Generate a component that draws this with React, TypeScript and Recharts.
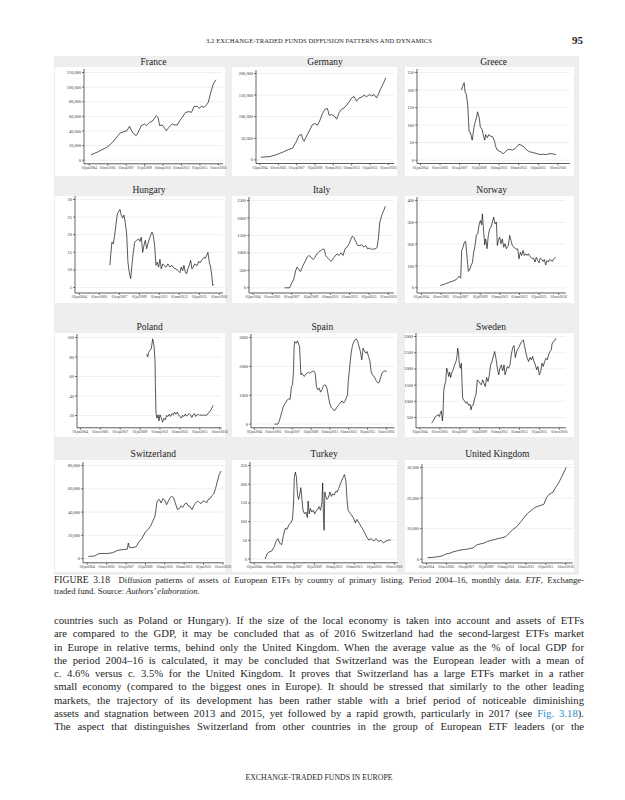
import React from 'react';
import { LineChart, Line, XAxis, YAxis, CartesianGrid } from 'recharts';

// ---------- data (month index from first x tick, value) ----------
const xTickMonths = [0, 22, 44, 66, 88, 110, 132, 154];
const xTickLabels = ['01jan2004', '01nov2005', '01sep2007', '01jul2009', '01may2011', '01mar2013', '01jan2015', '01nov2016'];

const france: [number, number][] = [[2,7300],[11,11800],[21,17700],[27,23600],[37,37300],[45,40500],[48,46400],[52,37300],[56,33600],[58,37300],[62,47300],[66,49500],[68,47300],[72,51800],[76,54100],[80,60900],[82,58600],[84,47300],[87,48200],[90,43600],[92,40500],[95,45000],[99,49500],[102,48200],[105,48200],[108,54100],[111,58600],[115,65500],[119,66400],[122,65500],[125,73600],[129,73600],[131,70900],[134,73600],[137,72300],[140,75900],[142,79100],[145,92700],[148,104000],[151,110000]];
const germany: [number, number][] = [[1,6200],[12,7700],[20,12400],[28,18500],[34,23900],[39,27000],[43,40100],[47,57100],[50,58700],[51,49400],[53,43200],[55,51700],[59,66400],[63,81800],[66,84100],[69,80300],[72,91900],[75,107300],[78,117300],[81,118900],[83,103400],[86,105000],[89,101900],[92,94200],[95,109600],[98,117300],[101,120400],[104,126600],[107,134300],[110,143600],[113,146700],[116,135900],[119,143600],[122,145100],[125,149800],[128,145900],[131,151300],[134,148200],[137,151300],[140,143600],[142,151300],[145,165200],[148,176800],[151,189900]];
const greece: [number, number][] = [[46,200],[47,209],[49,221],[50,195],[51.5,187],[53,157],[54.5,81],[56,79],[58,57],[60,95],[61,105],[63,124],[64,138],[66,119],[67,95],[69,88],[70,76],[72,57],[73,73],[75,64],[76.5,73],[78,69],[81,67],[83,54],[84,41],[86,29],[88,26],[90,24],[92.5,18],[95,24],[97,29],[100,31],[103,29],[106,33],[108,38],[110,45],[113,43],[116,38],[119,29],[122,24],[126,22],[130,19],[134,16],[137,17],[141,16],[145,19],[148,18],[151.5,16]];
const hungary: [number, number][] = [[33.7,11.3],[34.8,15],[35.9,17.9],[37.4,17.4],[38.9,19.8],[40.3,22.8],[41.8,25.9],[43.3,26.6],[44.7,27.2],[46.2,25.5],[47.7,24.7],[49.1,25.6],[50.6,23.4],[52.1,20.2],[53.5,12.2],[55,9.2],[56.5,7.5],[57.9,11.3],[59.4,15],[60.9,17.9],[63.1,18.4],[65.3,18.8],[66.7,18.1],[68.2,19.3],[69.7,15],[71.1,16.9],[72.6,18.4],[74.1,16],[75.5,17.4],[77,18.8],[78.5,19.8],[79.9,20.7],[81.4,19.8],[82.9,16.9],[84.3,11.3],[85.8,12.2],[87.3,10.8],[88.7,13],[90.2,10.3],[91.7,11.7],[93.1,11.3],[95.3,10.8],[97.5,11.7],[99.7,10.8],[101.9,11.3],[104.1,10.5],[106.3,10.3],[108.5,9.8],[110.7,9.2],[112.2,10.8],[113.7,9.8],[115.1,11.3],[116.6,9.4],[118.1,8.9],[119.5,10.3],[121,11.3],[122.5,12.7],[123.9,10.3],[125.4,10.8],[126.9,11.7],[128.3,11.4],[129.8,11.3],[131.3,12.4],[132.7,12],[134.2,12.7],[135.7,13],[137.1,13.6],[138.6,13.3],[140.1,14.1],[141.5,15],[143,12.2],[144.5,10.8],[145.9,7.9],[146.7,5.6],[148.1,5.9]];
const italy: [number, number][] = [[36,0],[41.7,0],[43.6,114],[46.3,239],[48.6,496],[50.1,592],[51.6,544],[53.9,467],[55.4,544],[56.9,639],[59.2,754],[61.5,878],[63.7,925],[66,878],[68.3,811],[70.6,878],[72.8,973],[75.1,1040],[77.4,1068],[79.7,1116],[81.2,1097],[82.7,925],[84.2,878],[86.5,811],[88.8,754],[91,830],[93.3,906],[95.6,973],[97.9,925],[100.2,1002],[102.4,925],[104.7,1116],[107,1164],[109.3,1259],[111.5,1402],[113,1479],[114.6,1450],[116.8,1326],[119.1,1212],[121.4,1212],[123.7,1231],[125.9,1164],[128.2,1212],[130.5,1116],[132.8,1135],[135,1097],[137.3,1116],[139.6,1116],[141.1,1164],[142.6,1402],[144.2,1879],[146.4,2070],[148.7,2213],[150.6,2337]];
const norway: [number, number][] = [[21.3,11],[24.3,14],[28,20],[31.8,26],[35.5,31],[39.2,38],[42.2,53],[44.1,44],[45.2,171],[46.7,186],[48.2,209],[49.7,212],[51.2,140],[52.7,75],[54.2,84],[55.7,102],[57.2,115],[58.7,163],[60.2,194],[61.7,243],[63.2,247],[64.6,286],[66.1,308],[67.6,289],[68.4,339],[69.9,255],[71,197],[72.1,224],[73.6,179],[75.1,240],[76.6,270],[78.1,278],[79.6,301],[81.1,324],[82.6,293],[84.1,301],[85.2,194],[86.3,217],[87.8,232],[89.3,202],[90.8,224],[92.3,186],[93.8,202],[95.3,179],[97.5,194],[99,240],[100.5,217],[102,194],[103.5,186],[105,182],[106.5,176],[108,179],[109.5,133],[111,163],[112.5,148],[114,171],[115.5,148],[117,156],[118.5,148],[120,156],[121.4,145],[122.9,140],[124.4,133],[125.9,136],[127.4,118],[128.9,140],[130.4,125],[131.9,115],[133.4,136],[134.9,130],[136.4,121],[137.9,130],[139.4,105],[140.9,125],[142.4,118],[143.9,130],[145.4,125],[146.9,121],[148.4,133],[150.6,140]];
const poland: [number, number][] = [[73.3,82.9],[74.4,80.2],[75.5,85],[77,87],[78.5,89],[79.9,98.6],[81.4,91.8],[82.5,75.4],[82.9,51.4],[83.6,22.4],[84.7,17.3],[85.8,20.7],[86.9,14.5],[88,20.7],[89.5,17.3],[90.9,13.2],[92.4,17.3],[93.9,15.6],[95.3,20],[96.8,19],[98.3,21.4],[99.7,19],[101.2,22],[102.7,20.7],[104.1,23.4],[105.6,21.4],[107.1,23.4],[108.5,20.7],[110,19],[111.5,17.3],[112.9,20],[114.4,19],[115.9,21.4],[117.3,19.3],[118.8,20.7],[120.3,22],[121.7,20.7],[123.2,18],[124.7,20.7],[126.1,22],[127.6,19],[129.1,20.7],[130.5,21.4],[132,20],[133.5,20.7],[134.9,20],[136.4,20.7],[137.9,20],[140.1,20.7],[142.3,23.4],[144.5,25.8],[146.7,30.3]];
const spain: [number, number][] = [[23.3,0],[27.3,0],[28.9,115],[30.4,265],[32,438],[33.6,611],[35.2,692],[36.8,761],[38.3,842],[39.9,876],[41.5,853],[43.1,1303],[44.3,1361],[45.5,1822],[46.2,2686],[47,2859],[48.6,2802],[50.2,2882],[51.8,2744],[52.6,2686],[53.4,2168],[54.2,1706],[54.9,1764],[56.5,1706],[58.1,1649],[59.7,1730],[61.3,1764],[62.8,1799],[64.4,1764],[66,1799],[67.6,1822],[69.2,1845],[70.8,1764],[72.3,1303],[73.9,1188],[75.5,1245],[77.1,1107],[78.7,1188],[80.2,1303],[81.8,1361],[83.4,1337],[85,1188],[86.6,899],[88.1,692],[89.7,577],[91.3,530],[92.9,461],[94.5,496],[96,577],[97.6,646],[99.2,692],[100.8,761],[102.4,807],[104,726],[105.5,784],[107.1,899],[108.7,1015],[109.5,1476],[111.1,1937],[112.6,2398],[114.2,2686],[115.8,2836],[117.4,2917],[119,2952],[120.6,2859],[122.1,2686],[123.7,2514],[125.3,2225],[126.9,2629],[128.5,2537],[130,2456],[131.6,2514],[133.2,2341],[134.8,2191],[136.4,1799],[137.9,1706],[139.5,1649],[141.1,1568],[142.7,1476],[144.3,1418],[145.8,1453],[147.4,1614],[149,1764],[150.6,1822],[152.2,1845],[154.5,1822]];
const sweden: [number, number][] = [[12.9,325],[14.7,397],[16.6,500],[18.4,561],[20.3,582],[21.4,530],[22.5,633],[23.6,705],[24.7,397],[25.4,582],[26.2,1302],[27.3,1508],[28.4,1611],[29.5,2022],[30.6,1920],[31.7,1765],[32.8,1899],[33.9,1734],[35,1868],[36.1,1940],[37.2,2022],[38.3,2125],[39.8,2228],[40.9,2383],[41.6,2640],[42.7,2486],[43.5,2125],[44.6,2022],[45.7,2177],[46.4,1611],[47.2,1096],[47.9,1045],[49.4,1014],[50.8,942],[52.3,973],[53.8,870],[55.3,911],[56.4,736],[57.5,870],[59,891],[60.4,1096],[61.9,1199],[63.4,1662],[64.8,1611],[66.3,1559],[67.8,1508],[69.3,1662],[70.7,1559],[72.2,1457],[73.7,1734],[75.2,1611],[76.6,1796],[78.1,2125],[79.6,2228],[81.1,2383],[82.5,2537],[84,2331],[85.5,2022],[87,1817],[88.4,2022],[89.9,2125],[91.4,1940],[92.9,2125],[94,1817],[95.1,1920],[96.5,2074],[98,2022],[99.5,2125],[101,2455],[102.4,2640],[103.9,2722],[105.4,2352],[106.9,2537],[108.3,2619],[109.8,2691],[111.3,2794],[112.7,2846],[114.2,2897],[115.7,2691],[117.2,2486],[118.6,2331],[120.1,2228],[121.6,2352],[123.1,2280],[124.5,2383],[126,2228],[127.5,2125],[129,1971],[130.4,2074],[131.9,1817],[133.4,1920],[134.9,2177],[136.3,2074],[137.8,2228],[139.3,2331],[140.7,2280],[142.2,2434],[143.7,2537],[145.2,2588],[145.9,2763],[147.4,2846],[148.9,2866],[150.3,2949]];
const switzerland: [number, number][] = [[1.2,1900],[8.3,2200],[12.4,4100],[16.5,4400],[22.7,4400],[28.9,5000],[33,6600],[37.1,7500],[41.3,7800],[45.4,8100],[46.6,13400],[47.9,9400],[51.6,9400],[55.7,10300],[57.8,13400],[61.9,17200],[66,22800],[69.3,25300],[72.2,28400],[74.3,32200],[76.4,35300],[77.6,40000],[79.3,49400],[81.7,50900],[83.8,47800],[85.9,51600],[87.9,50300],[90,46300],[92,49400],[94.1,52500],[95.8,53400],[97.8,52500],[99.9,47800],[102.4,42200],[104.4,43100],[106.5,45300],[108.6,44100],[110.6,46900],[112.7,47800],[114.7,45300],[116.8,44700],[118.9,42200],[120.9,45300],[123,47800],[125.1,49400],[127.1,48400],[129.2,47200],[131.3,49400],[133.3,49400],[135.4,47800],[137.4,50900],[139.5,51600],[141.6,54100],[143.6,55600],[145.7,60300],[147.8,66600],[149.8,72200],[151.9,75300]];
const turkey: [number, number][] = [[12,0],[14,13.6],[16,18.5],[19.2,21.4],[22,33.1],[24,47.7],[26,54.5],[28,42.8],[30,37.9],[32,62.3],[34,81.7],[36,79.8],[38,91.4],[40,96.3],[42,106],[43.2,149.8],[44,217.9],[45.2,232.5],[46.4,217.9],[47.6,169.3],[48.8,159.5],[50.4,179],[51.2,190.7],[52.4,159.5],[53.6,130.4],[55.2,120.6],[56.8,125.5],[58.4,110.9],[59.2,154.7],[60.4,120.6],[61.6,135.2],[63.2,125.5],[64.8,130.4],[66.4,120.6],[68,128.4],[69.6,132.3],[71.2,140.1],[72.8,130.4],[74.4,149.8],[75.2,203.3],[76,120.6],[76.8,76.9],[77.6,179],[78.4,169.3],[80,159.5],[81.6,164.4],[83.2,179],[84.8,167.3],[86.4,174.1],[88,171.2],[89.6,180.9],[91.2,179],[92.8,188.7],[94.4,198.5],[96,208.2],[97.6,217.9],[99.2,225.7],[100.8,208.2],[102,159.5],[103.2,130.4],[106,120.6],[108.8,110.9],[111.2,96.3],[112.8,106],[115.2,96.3],[117.6,86.6],[120,76.9],[122,67.1],[124,57.4],[126,50.6],[128.8,54.5],[131.2,47.7],[134,54.5],[136.8,46.7],[139.2,50.6],[142,42.8],[144.8,47.7],[147.2,50.6],[150,50.6]];
const unitedKingdom: [number, number][] = [[1.2,480],[7.2,600],[13.3,830],[17.3,1070],[21.3,1670],[25.3,1900],[29.4,2380],[35.4,2860],[39.4,3090],[43.4,3210],[47.5,3450],[51.5,3690],[55.5,4640],[59.5,5000],[63.6,5240],[67.6,5830],[71.6,6190],[75.6,6430],[79.6,6780],[83.7,7020],[87.7,7380],[91.7,8570],[95.7,9760],[99.8,10590],[103.8,12020],[107.8,13570],[111.8,14990],[115.8,15950],[119.9,16900],[123.9,17370],[127.9,17730],[129.9,17970],[132.7,20110],[136,21300],[140,21900],[142,23090],[146,24870],[150.1,27250],[152.9,29040],[154.5,29990]];

const franceTicks = [0, 20000, 40000, 60000, 80000, 100000, 120000];
const franceLabels = ['0', '20,000', '40,000', '60,000', '80,000', '100,000', '120,000'];
const germanyTicks = [0, 50000, 100000, 150000, 200000];
const germanyLabels = ['0', '50,000', '100,000', '150,000', '200,000'];
const greeceTicks = [0, 50, 100, 150, 200, 250];
const hungaryTicks = [5, 10, 15, 20, 25, 30];
const italyTicks = [0, 500, 1000, 1500, 2000, 2500];
const norwayTicks = [0, 100, 200, 300, 400];
const polandTicks = [20, 40, 60, 80, 100];
const spainTicks = [0, 1000, 2000, 3000];
const swedenTicks = [500, 1000, 1500, 2000, 2500, 3000];
const switzerlandTicks = [0, 20000, 40000, 60000, 80000];
const switzerlandLabels = ['0', '20,000', '40,000', '60,000', '80,000'];
const turkeyTicks = [0, 50, 100, 150, 200, 250];
const ukTicks = [0, 10000, 20000, 30000];
const ukLabels = ['0', '10,000', '20,000', '30,000'];

type Cfg = {
  title: string;
  series: [number, number][];
  yTicks: number[];
  yLabels?: string[];
  axisX: number; right: number; t0: number; t7: number;
  yLo: number; yLoPx: number; yHi: number; yHiPx: number;
  bottom: number; titleY: number;
};

const charts: Cfg[] = [
  { title: 'France', series: france, yTicks: franceTicks, yLabels: franceLabels, axisX: 84, right: 223, t0: 89.3, t7: 218.3, yLo: 0, yLoPx: 159.7, yHi: 120000, yHiPx: 72, bottom: 163.3, titleY: 62 },
  { title: 'Germany', series: germany, yTicks: germanyTicks, yLabels: germanyLabels, axisX: 256, right: 394, t0: 260, t7: 388.3, yLo: 0, yLoPx: 159.7, yHi: 200000, yHiPx: 73.3, bottom: 163.3, titleY: 62 },
  { title: 'Greece', series: greece, yTicks: greeceTicks, axisX: 417.3, right: 570, t0: 420.7, t7: 558.3, yLo: 0, yLoPx: 160, yHi: 250, yHiPx: 72.3, bottom: 163.3, titleY: 62 },
  { title: 'Hungary', series: hungary, yTicks: hungaryTicks, axisX: 75, right: 223, t0: 79.3, t7: 219.3, yLo: 5, yLoPx: 287, yHi: 30, yHiPx: 199, bottom: 292.5, titleY: 190 },
  { title: 'Italy', series: italy, yTicks: italyTicks, axisX: 249.3, right: 394, t0: 253.3, t7: 388.7, yLo: 0, yLoPx: 287.3, yHi: 2500, yHiPx: 200, bottom: 292.5, titleY: 190 },
  { title: 'Norway', series: norway, yTicks: norwayTicks, axisX: 417.3, right: 566, t0: 421.7, t7: 559, yLo: 0, yLoPx: 287.3, yHi: 400, yHiPx: 200, bottom: 292.5, titleY: 190 },
  { title: 'Poland', series: poland, yTicks: polandTicks, axisX: 77.3, right: 222, t0: 80.7, t7: 220, yLo: 20, yLoPx: 415.7, yHi: 100, yHiPx: 337.7, bottom: 428, titleY: 327 },
  { title: 'Spain', series: spain, yTicks: spainTicks, axisX: 250.7, right: 394, t0: 254.3, t7: 386, yLo: 0, yLoPx: 424.3, yHi: 3000, yHiPx: 337.7, bottom: 428, titleY: 327 },
  { title: 'Sweden', series: sweden, yTicks: swedenTicks, axisX: 416, right: 566, t0: 420, t7: 559.3, yLo: 500, yLoPx: 417.7, yHi: 3000, yHiPx: 336.7, bottom: 428, titleY: 327 },
  { title: 'Switzerland', series: switzerland, yTicks: switzerlandTicks, yLabels: switzerlandLabels, axisX: 83, right: 223.6, t0: 87.3, t7: 222.9, yLo: 0, yLoPx: 558.8, yHi: 80000, yHiPx: 465.7, bottom: 563, titleY: 454 },
  { title: 'Turkey', series: turkey, yTicks: turkeyTicks, axisX: 250.2, right: 398, t0: 254.5, t7: 394.5, yLo: 0, yLoPx: 559.2, yHi: 250, yHiPx: 465.7, bottom: 563, titleY: 454 },
  { title: 'United Kingdom', series: unitedKingdom, yTicks: ukTicks, yLabels: ukLabels, axisX: 421.8, right: 572.7, t0: 426.2, t7: 565.5, yLo: 0, yLoPx: 559.2, yHi: 30000, yHiPx: 467.5, bottom: 563, titleY: 454 },
];

const YW = 34;
const XH = 10;
const RM = 12;
const serif = '"Liberation Serif", "DejaVu Serif", serif';

function Panel({ c }: { c: Cfg }) {
  const plotTop = c.yHiPx - 3.5;
  const perPx = (c.yHi - c.yLo) / (c.yLoPx - c.yHiPx);
  const yMax = c.yHi + (c.yHiPx - plotTop) * perPx;
  const yMin = c.yLo - (c.bottom - c.yLoPx) * perPx;
  const mPerPx = 154 / (c.t7 - c.t0);
  const xMin = -(c.t0 - c.axisX) * mPerPx;
  const xMax = 154 + (c.right - c.t7) * mPerPx;
  const w = c.right - c.axisX + YW + RM;
  const h = c.bottom - plotTop + XH;
  const data = c.series.map(([m, v]) => ({ m, v }));
  const labelFor = (v: number) => {
    const i = c.yTicks.indexOf(v);
    return c.yLabels ? c.yLabels[i] : String(v);
  };
  const xLabel = (v: number) => xTickLabels[xTickMonths.indexOf(v)] ?? '';
  return (
    <div style={{ position: 'absolute', left: c.axisX - YW, top: plotTop }}>
      <LineChart width={w} height={h} data={data} margin={{ top: 0, right: RM, bottom: 0, left: 0 }}>
        <CartesianGrid vertical={false} stroke="#e4e4e4" strokeWidth={0.6} />
        <XAxis type="number" dataKey="m" domain={[xMin, xMax]} ticks={xTickMonths} interval={0}
          allowDataOverflow height={XH} tickSize={2} tickMargin={0.5}
          axisLine={{ stroke: '#222', strokeWidth: 0.7 }} tickLine={{ stroke: '#222', strokeWidth: 0.6 }}
          tick={{ fontSize: 3.6, fill: '#333', fontFamily: serif }} tickFormatter={xLabel} />
        <YAxis type="number" domain={[yMin, yMax]} ticks={c.yTicks} interval={0} allowDataOverflow
          width={YW} tickSize={2} tickMargin={1}
          axisLine={{ stroke: '#222', strokeWidth: 0.7 }} tickLine={{ stroke: '#222', strokeWidth: 0.6 }}
          tick={{ fontSize: 4.4, fill: '#333', fontFamily: serif }} tickFormatter={labelFor} />
        <Line type="linear" dataKey="v" stroke="#111" strokeWidth={0.7} dot={false} isAnimationActive={false} />
      </LineChart>
    </div>
  );
}

const colWhite = [[55, 225], [232, 397], [405, 574]];
const rowWhite = [[67, 176], [196, 303], [333, 437], [460, 572]];

const bodyLines = [
  'countries such as Poland or Hungary). If the size of the local economy is taken into account and assets of ETFs',
  'are compared to the GDP, it may be concluded that as of 2016 Switzerland had the second-largest ETFs market',
  'in Europe in relative terms, behind only the United Kingdom. When the average value as the % of local GDP for',
  'the period 2004\u201316 is calculated, it may be concluded that Switzerland was the European leader with a mean of',
  'c. 4.6% versus c. 3.5% for the United Kingdom. It proves that Switzerland has a large ETFs market in a rather',
  'small economy (compared to the biggest ones in Europe). It should be stressed that similarly to the other leading',
  'markets, the trajectory of its development has been rather stable with a brief period of noticeable diminishing',
  'ASSETS_LINE',
  'The aspect that distinguishes Switzerland from other countries in the group of European ETF leaders (or the',
];

const just: React.CSSProperties = { textAlign: 'justify', textAlignLast: 'justify', whiteSpace: 'nowrap' as const, display: 'block' };

export default function App() {
  return (
    <div style={{ position: 'absolute', left: 0, top: 0, width: 625, height: 800, background: '#fff', overflow: 'hidden', fontFamily: serif, color: '#1e1e1e' }}>
      {/* header */}
      <div style={{ position: 'absolute', left: 150, width: 338, top: 36, fontSize: 6.6, lineHeight: '10px', textAlign: 'center', letterSpacing: 0.1 }}>
        3.2 EXCHANGE-TRADED FUNDS DIFFUSION PATTERNS AND DYNAMICS
      </div>
      <div style={{ position: 'absolute', left: 540, width: 43, top: 34, fontSize: 11, lineHeight: '13px', textAlign: 'right', fontWeight: 700 }}>95</div>

      {/* figure panel */}
      <div style={{ position: 'absolute', left: 54, top: 56, width: 525, height: 519, background: '#eeeeee' }} />
      {rowWhite.map((r, ri) => colWhite.map((cc, ci) => (
        <div key={ri + '-' + ci} style={{ position: 'absolute', left: cc[0], top: r[0], width: cc[1] - cc[0], height: r[1] - r[0], background: '#fff' }} />
      )))}
      {charts.map((c) => (
        <div key={'t' + c.title} style={{ position: 'absolute', left: (c.axisX + c.right) / 2 - 60, width: 120, top: c.titleY - 6, fontSize: 9.5, lineHeight: '12px', textAlign: 'center', color: '#222', fontWeight: 400 }}>{c.title}</div>
      ))}
      {charts.map((c) => <Panel key={c.title} c={c} />)}

      {/* caption */}
      <div style={{ position: 'absolute', left: 54, width: 530, top: 575, fontSize: 8.6, lineHeight: '10.5px' }}>
        <div style={just}>
          <span style={{ fontSize: 9.6 }}>FIGURE 3.18</span>{'\u2002 '}Diffusion patterns of assets of European ETFs by country of primary listing. Period 2004{'\u2013'}16, monthly data. <i>ETF</i>, Exchange-
        </div>
        <div>traded fund. Source: <i>Authors{'\u2019'} elaboration.</i></div>
      </div>

      {/* body */}
      <div style={{ position: 'absolute', left: 54, width: 530, top: 614, fontSize: 10.7, lineHeight: '13.3px' }}>
        {bodyLines.map((l, i) => (
          <div key={i} style={just}>
            {l === 'ASSETS_LINE'
              ? <>assets and stagnation between 2013 and 2015, yet followed by a rapid growth, particularly in 2017 (see <span style={{ color: '#1f8ac9' }}>Fig. 3.18</span>).</>
              : l}
          </div>
        ))}
      </div>

      {/* footer */}
      <div style={{ position: 'absolute', left: 150, width: 338, top: 773, fontSize: 7.8, lineHeight: '10px', textAlign: 'center' }}>
        EXCHANGE-TRADED FUNDS IN EUROPE
      </div>
    </div>
  );
}
